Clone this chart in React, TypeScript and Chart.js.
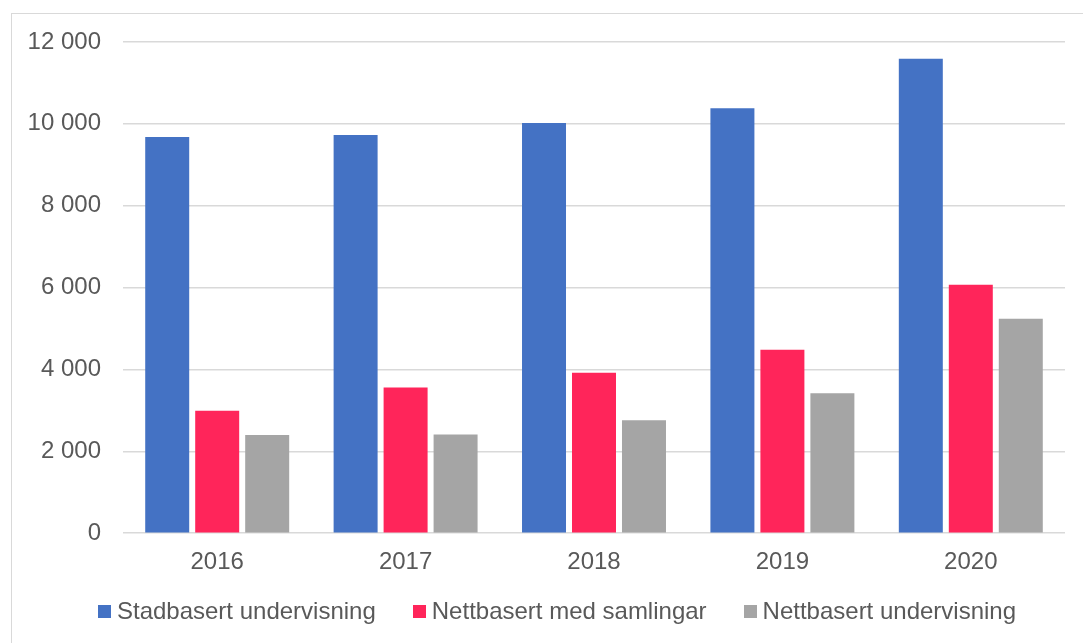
import React, { useEffect, useRef } from 'react';
import { Chart, registerables } from 'chart.js';

Chart.register(...registerables);

const years = ['2016', '2017', '2018', '2019', '2020'];
const stadbasert = [9680, 9730, 10020, 10380, 11590];
const nettSamlingar = [2990, 3560, 3920, 4480, 6070];
const nettUndervisning = [2400, 2410, 2760, 3420, 5240];
const seriesNames = ['Stadbasert undervisning', 'Nettbasert med samlingar', 'Nettbasert undervisning'];
const seriesColors = ['#4472C4', '#FF255A', '#A5A5A5'];
const yMin = 0;
const yMax = 12000;
const yStep = 2000;

const FONT = "'Liberation Sans', Arial, sans-serif";
const TEXT = '#595959';
const FONT_SIZE = 24;

function fmt(v: number): string {
  return String(v).replace(/\B(?=(\d{3})+(?!\d))/g, ' ');
}

// Bottom legend drawn from the chart's own datasets
const bottomLegend = {
  id: 'bottomLegend',
  afterDraw(chart: any) {
    const ctx = chart.ctx;
    const box = 13;
    const gapText = 6;
    const gapItem = 37;
    const cx = 557;
    const cy = 611;
    ctx.save();
    ctx.font = `${FONT_SIZE}px ${FONT}`;
    const items = chart.data.datasets.map((ds: any) => ({
      text: ds.label as string,
      color: ds.backgroundColor as string,
      w: ctx.measureText(ds.label).width,
    }));
    const total = items.reduce((s: number, it: any) => s + box + gapText + it.w, 0) + gapItem * (items.length - 1);
    let x = cx - total / 2;
    ctx.textBaseline = 'middle';
    ctx.textAlign = 'left';
    for (const it of items) {
      ctx.fillStyle = it.color;
      ctx.fillRect(Math.round(x), Math.round(cy - box / 2), box, box);
      ctx.fillStyle = TEXT;
      ctx.fillText(it.text, x + box + gapText, cy + 1);
      x += box + gapText + it.w + gapItem;
    }
    ctx.restore();
  },
};

export default function App() {
  const ref = useRef<HTMLCanvasElement | null>(null);

  useEffect(() => {
    if (!ref.current) return;
    const seriesValues = [stadbasert, nettSamlingar, nettUndervisning];
    const chart = new Chart(ref.current, {
      type: 'bar',
      data: {
        labels: years,
        datasets: seriesNames.map((name, i) => ({
          label: name,
          data: seriesValues[i],
          backgroundColor: seriesColors[i],
          borderWidth: 0,
          categoryPercentage: 0.796,
          barPercentage: 0.88,
        })),
      },
      options: {
        animation: false,
        responsive: false,
        maintainAspectRatio: false,
        layout: { padding: { left: 3, right: 18, top: 42, bottom: 59 } },
        font: { family: FONT },
        plugins: {
          tooltip: { enabled: false },
          legend: { display: false },
        },
        scales: {
          x: {
            grid: { display: false },
            border: { display: false },
            ticks: { color: TEXT, font: { family: FONT, size: FONT_SIZE }, padding: 7 },
          },
          y: {
            min: yMin,
            max: yMax,
            afterFit: (scale: any) => { scale.width = 120; },
            ticks: {
              stepSize: yStep,
              color: TEXT,
              padding: 22,
              font: { family: FONT, size: FONT_SIZE },
              callback: (v: any) => fmt(Number(v)),
            },
            grid: { color: '#D9D9D9', lineWidth: 1.5, drawTicks: false },
            border: { display: false },
          },
        },
      },
      plugins: [bottomLegend],
    });
    return () => chart.destroy();
  }, []);

  return (
    <div style={{ position: 'absolute', left: 0, top: 0, width: 1083, height: 643, overflow: 'hidden', background: '#fff' }}>
      <div style={{ position: 'absolute', left: 11, top: 13, width: 1200, height: 800, border: '1px solid #D9D9D9' }} />
      <canvas ref={ref} width={1083} height={643} style={{ position: 'absolute', left: 0, top: 0, width: 1083, height: 643 }} />
    </div>
  );
}
